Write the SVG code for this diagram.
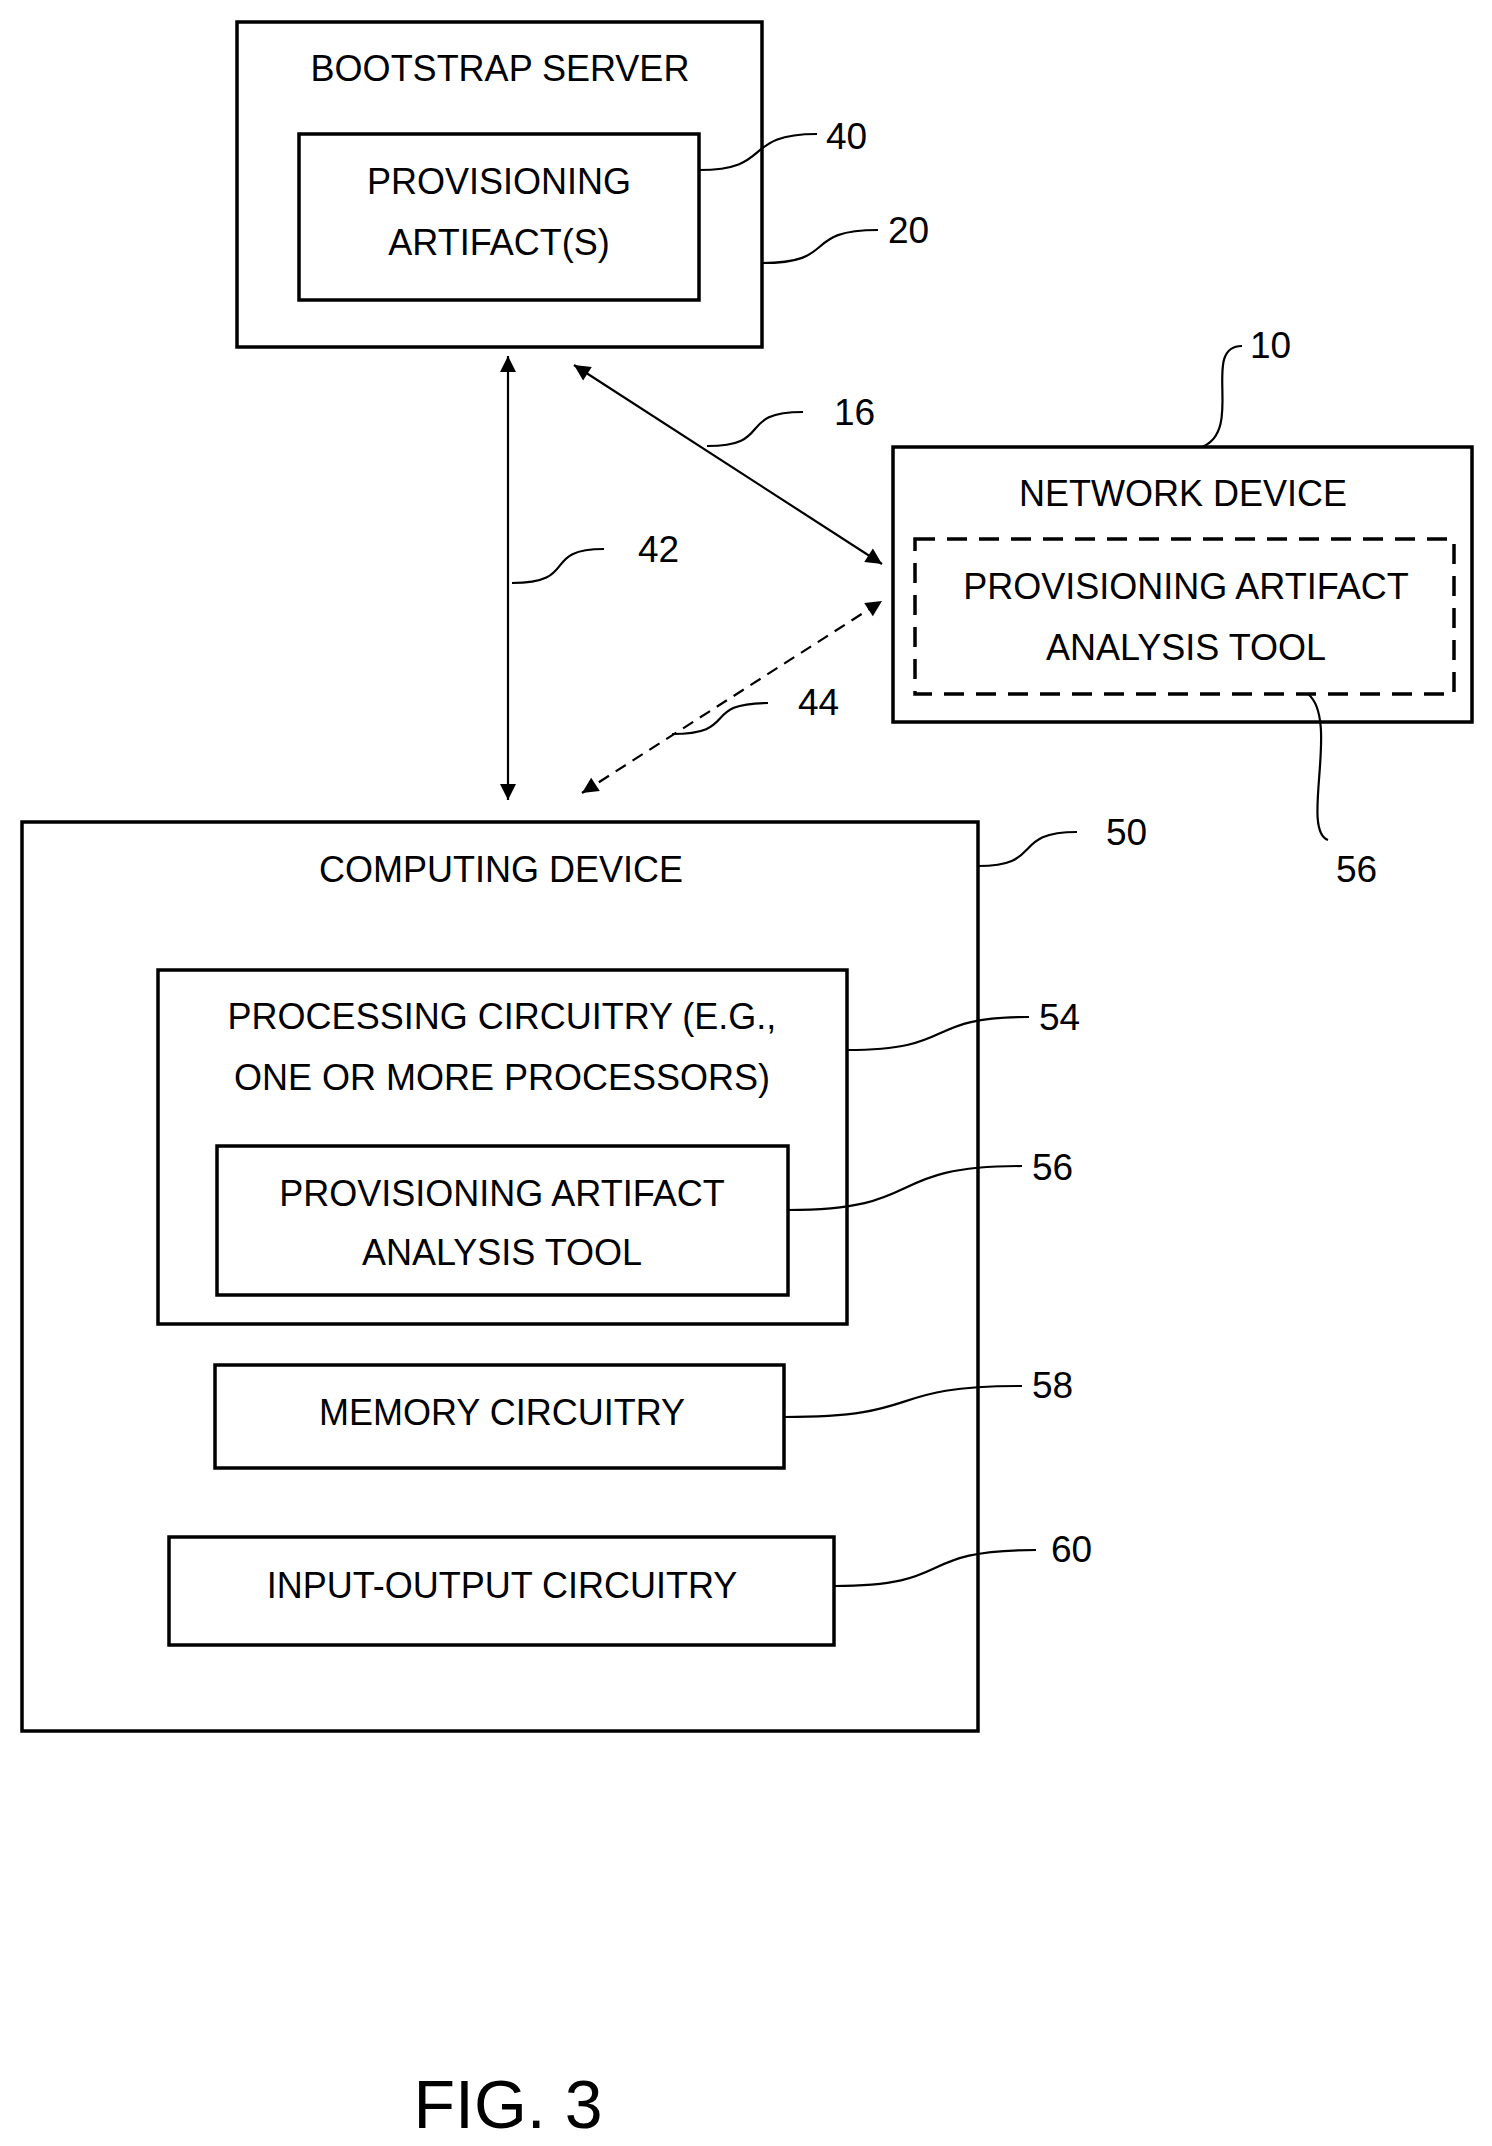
<svg xmlns="http://www.w3.org/2000/svg" width="1492" height="2146" viewBox="0 0 1492 2146">
<style>
.b{fill:none;stroke:#000;stroke-width:3.5}
.l{fill:none;stroke:#000;stroke-width:2.2}
.t{font-family:"Liberation Sans",Arial,sans-serif;font-size:36px;text-anchor:middle;fill:#000}
.n{font-family:"Liberation Sans",Arial,sans-serif;font-size:37px;fill:#000}
</style>
<defs>
<marker id="a" viewBox="0 0 10 10" refX="10" refY="5" markerWidth="20" markerHeight="16" markerUnits="userSpaceOnUse" orient="auto-start-reverse"><path d="M0,0L10,5L0,10z" fill="#000"/></marker>
</defs>
<rect width="1492" height="2146" fill="#fff"/>
<g id="bootstrap">
<rect class="b" x="237" y="22" width="525" height="325"/>
<text class="t" x="500" y="81">BOOTSTRAP SERVER</text>
</g>
<g id="artifacts">
<rect class="b" x="299" y="134" width="400" height="166"/>
<text class="t" x="499" y="194">PROVISIONING</text>
<text class="t" x="499" y="255">ARTIFACT(S)</text>
</g>
<g id="network">
<rect class="b" x="893" y="447" width="579" height="275"/>
<text class="t" x="1183" y="506">NETWORK DEVICE</text>
</g>
<g id="tool-net">
<rect class="b" x="915" y="539" width="539" height="155" stroke-dasharray="20,12"/>
<text class="t" x="1186" y="599">PROVISIONING ARTIFACT</text>
<text class="t" x="1186" y="660">ANALYSIS TOOL</text>
</g>
<g id="computing">
<rect class="b" x="22" y="822" width="956" height="909"/>
<text class="t" x="501" y="882">COMPUTING DEVICE</text>
</g>
<g id="processing">
<rect class="b" x="158" y="970" width="689" height="354"/>
<text class="t" x="502" y="1029">PROCESSING CIRCUITRY (E.G.,</text>
<text class="t" x="502" y="1090">ONE OR MORE PROCESSORS)</text>
</g>
<g id="tool-comp">
<rect class="b" x="217" y="1146" width="571" height="149"/>
<text class="t" x="502" y="1206">PROVISIONING ARTIFACT</text>
<text class="t" x="502" y="1265">ANALYSIS TOOL</text>
</g>
<g id="memory">
<rect class="b" x="215" y="1365" width="569" height="103"/>
<text class="t" x="502" y="1425">MEMORY CIRCUITRY</text>
</g>
<g id="io">
<rect class="b" x="169" y="1537" width="665" height="108"/>
<text class="t" x="502" y="1598">INPUT-OUTPUT CIRCUITRY</text>
</g>
<g id="connectors">
<line class="l" x1="508" y1="356" x2="508" y2="800" marker-start="url(#a)" marker-end="url(#a)"/>
<line class="l" x1="574" y1="365" x2="882" y2="564" marker-start="url(#a)" marker-end="url(#a)"/>
<line class="l" x1="582" y1="793" x2="882" y2="601" stroke-dasharray="12,8" marker-start="url(#a)" marker-end="url(#a)"/>
</g>
<g id="leaders">
<path class="l" d="M699,170 C775,170 740,134 817,134"/>
<path class="l" d="M762,263 C840,263 800,230 878,230"/>
<path class="l" d="M1202,447 C1245,430 1200,346 1242,346"/>
<path class="l" d="M1308,694 C1340,720 1300,830 1328,840"/>
<path class="l" d="M512,583 C580,583 540,549 604,549"/>
<path class="l" d="M707,446 C775,446 735,412 803,412"/>
<path class="l" d="M672,734 C740,734 700,703 768,703"/>
<path class="l" d="M978,866 C1045,866 1010,832 1077,832"/>
<path class="l" d="M847,1050 C960,1050 920,1017 1029,1017"/>
<path class="l" d="M788,1210 C930,1210 880,1166 1022,1166"/>
<path class="l" d="M784,1417 C930,1417 880,1386 1022,1386"/>
<path class="l" d="M834,1586 C960,1586 910,1550 1036,1550"/>
</g>
<g id="labels">
<text class="n" x="826" y="149">40</text>
<text class="n" x="888" y="243">20</text>
<text class="n" x="1250" y="358">10</text>
<text class="n" x="1336" y="882">56</text>
<text class="n" x="638" y="562">42</text>
<text class="n" x="834" y="425">16</text>
<text class="n" x="798" y="715">44</text>
<text class="n" x="1106" y="845">50</text>
<text class="n" x="1039" y="1030">54</text>
<text class="n" x="1032" y="1180">56</text>
<text class="n" x="1032" y="1398">58</text>
<text class="n" x="1051" y="1562">60</text>
<text x="508" y="2128" style="font-family:'Liberation Sans',Arial,sans-serif;font-size:68px;text-anchor:middle">FIG. 3</text>
</g>
</svg>
